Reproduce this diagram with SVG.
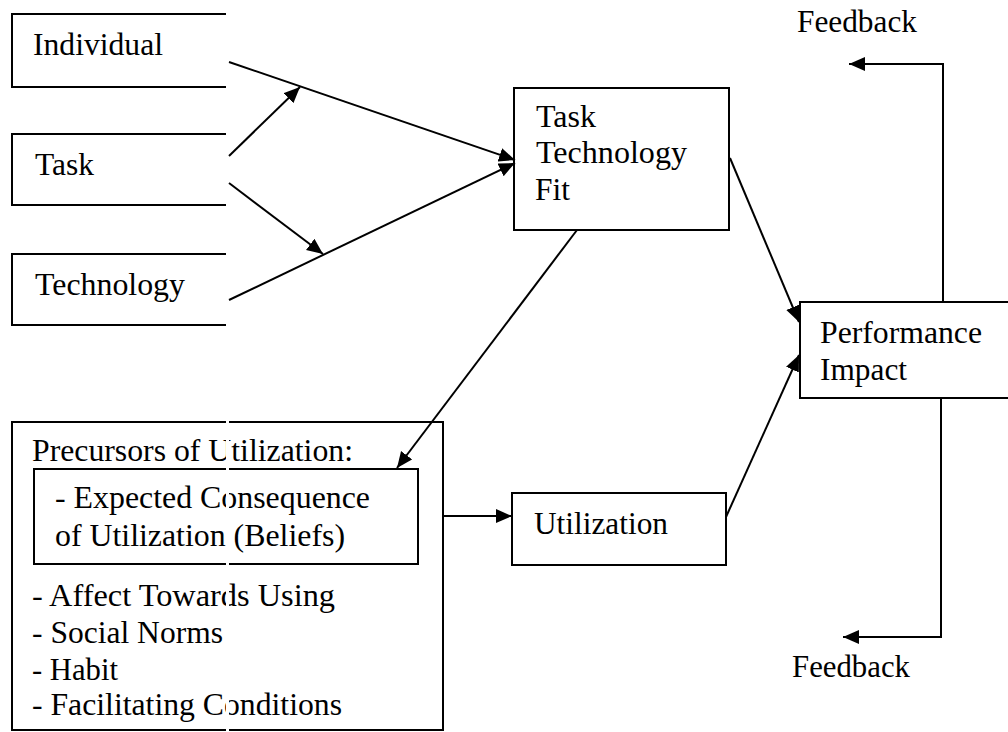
<svg xmlns="http://www.w3.org/2000/svg" width="1008" height="732" viewBox="0 0 1008 732">
  <defs>
    <marker id="arrow" markerUnits="userSpaceOnUse" markerWidth="17" markerHeight="15" refX="16" refY="7" orient="auto">
      <path d="M0,0 L16,7 L0,14 z" fill="#000"/>
    </marker>
    <style>
      .box { fill: #fff; stroke: #000; stroke-width: 2; }
      .edge { fill: none; stroke: #000; stroke-width: 2; }
      .conn { fill: none; stroke: #000; stroke-width: 2; marker-end: url(#arrow); }
      text { font-family: 'Liberation Serif', 'Times New Roman', Times, Tinos, 'Nimbus Roman', 'Noto Serif', 'DejaVu Serif', FreeSerif, serif; font-size: 31.5px; fill: #000; }
    </style>
  </defs>
  <rect width="1008" height="732" fill="#fff"/>

  <!-- input factors (open on the right) -->
  <g id="individual">
    <path class="edge" d="M226,14 H12 V87 H226"/>
    <text x="33" y="55" textLength="130" lengthAdjust="spacingAndGlyphs">Individual</text>
  </g>
  <g id="task">
    <path class="edge" d="M226,134 H12 V205 H226"/>
    <text x="35" y="175" textLength="59" lengthAdjust="spacingAndGlyphs">Task</text>
  </g>
  <g id="technology">
    <path class="edge" d="M226,254 H12 V325 H226"/>
    <text x="35" y="295" textLength="150" lengthAdjust="spacingAndGlyphs">Technology</text>
  </g>

  <g id="ttf">
    <rect class="box" x="514" y="88" width="215" height="142"/>
    <text x="536" y="127" textLength="60" lengthAdjust="spacingAndGlyphs">Task</text>
    <text x="536" y="163" textLength="151" lengthAdjust="spacingAndGlyphs">Technology</text>
    <text x="535" y="200" textLength="35" lengthAdjust="spacingAndGlyphs">Fit</text>
  </g>

  <g id="performance">
    <path class="edge" d="M1012,302 H800 V398 H1012"/>
    <text x="820" y="343" textLength="162" lengthAdjust="spacingAndGlyphs">Performance</text>
    <text x="820" y="380" textLength="87" lengthAdjust="spacingAndGlyphs">Impact</text>
  </g>

  <g id="precursors">
    <rect class="box" x="12" y="422" width="431" height="308"/>
    <text x="32" y="461" textLength="321" lengthAdjust="spacingAndGlyphs">Precursors of Utilization:</text>
    <rect class="box" x="34" y="469" width="384" height="95"/>
    <text x="55" y="508" textLength="315" lengthAdjust="spacingAndGlyphs">- Expected Consequence</text>
    <text x="55" y="546" textLength="290" lengthAdjust="spacingAndGlyphs">of Utilization (Beliefs)</text>
    <text x="32" y="606" textLength="303" lengthAdjust="spacingAndGlyphs">- Affect Towards Using</text>
    <text x="32" y="643" textLength="191" lengthAdjust="spacingAndGlyphs">- Social Norms</text>
    <text x="32" y="680" textLength="86" lengthAdjust="spacingAndGlyphs">- Habit</text>
    <text x="32" y="715" textLength="310" lengthAdjust="spacingAndGlyphs">- Facilitating Conditions</text>
  </g>

  <g id="utilization">
    <rect class="box" x="512" y="493" width="214" height="72"/>
    <text x="534" y="534" textLength="134" lengthAdjust="spacingAndGlyphs">Utilization</text>
  </g>

  <g id="feedback-labels">
    <text x="797" y="32" textLength="120" lengthAdjust="spacingAndGlyphs">Feedback</text>
    <text x="792" y="677" textLength="118" lengthAdjust="spacingAndGlyphs">Feedback</text>
  </g>

  <g id="connectors">
    <path class="conn" d="M229,62 L515,160"/>
    <path class="conn" d="M229,300 L515,163"/>
    <path class="conn" d="M229,156 L300,87"/>
    <path class="conn" d="M229,183 L323,254"/>
    <path class="conn" d="M577,230 L397,468"/>
    <path class="conn" d="M730,158 L799,322"/>
    <path class="conn" d="M726,517 L799,355"/>
    <path class="conn" d="M443,516 L512,516"/>
    <path class="conn" d="M943,302 V64 H849"/>
    <path class="conn" d="M941,398 V637 H843"/>
  </g>

  <!-- narrow blank seam crossing the lower-left box -->
  <rect x="226" y="415" width="3" height="317" fill="#fff"/>
</svg>
